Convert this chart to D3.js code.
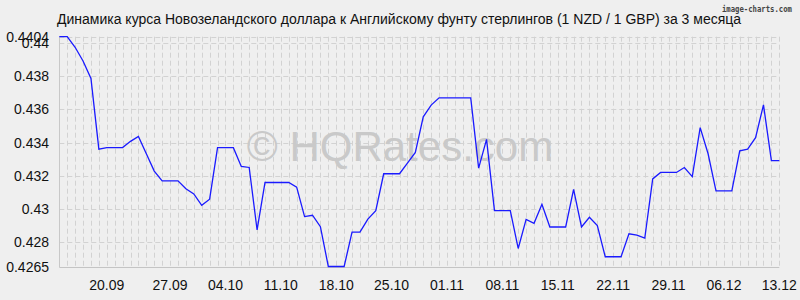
<!DOCTYPE html>
<html><head><meta charset="utf-8">
<script src="https://cdn.jsdelivr.net/npm/d3@7"></script>
<style>
html,body{margin:0;padding:0;background:#efefef;}
svg{display:block;font-family:"Liberation Sans",Arial,sans-serif;}
</style></head>
<body>
<svg id="c" width="800" height="300"></svg>
<script>
const title = "Динамика курса Новозеландского доллара к Английскому фунту стерлингов (1 NZD / 1 GBP) за 3 месяца";
const rates = [
0.4404,0.4404,0.43976,0.43893,0.43787,0.43360,0.43369,0.43369,0.43369,0.43407,
0.43437,0.43332,0.43227,0.43168,0.43168,0.43168,0.43120,0.43089,0.43020,0.43057,
0.43369,0.43369,0.43369,0.43255,0.43249,0.42871,0.43158,0.43158,0.43158,0.43158,
0.43130,0.42952,0.42960,0.42891,0.4265,0.4265,0.4265,0.42858,0.42858,0.42937,
0.42988,0.43211,0.43211,0.43211,0.43275,0.43340,0.43555,0.43626,0.43670,0.43670,
0.43670,0.43670,0.43670,0.43245,0.43419,0.42988,0.42988,0.42988,0.42759,0.42935,
0.42911,0.43026,0.42889,0.42889,0.42889,0.43116,0.42889,0.42948,0.42898,0.42709,
0.42709,0.42709,0.42848,0.42840,0.42822,0.43180,0.43219,0.43219,0.43219,0.43249,
0.43194,0.43490,0.43332,0.43107,0.43107,0.43107,0.43350,0.43360,0.43429,0.43628,
0.43290,0.43290
];
const xTickLabels = ["20.09","27.09","04.10","11.10","18.10","25.10","01.11","08.11","15.11","22.11","29.11","06.12","13.12"];
const xTickIndex  = [6,14,21,28,35,42,49,56,63,70,77,84,91];
const yTickValues = [0.4265,0.428,0.43,0.432,0.434,0.436,0.438,0.44,0.4404];
const yMin = 0.4265, yMax = 0.4404;

const svg = d3.select("#c");
const L = 59.3, R = 779.3, T = 36.7, B = 266.5;
const x = d3.scaleLinear().domain([0, rates.length - 1]).range([L, R]);
const y = d3.scaleLinear().domain([yMin, yMax]).range([B, T]);

// grid
const g = svg.append("g");
g.selectAll("line.v").data(d3.range(1, rates.length)).enter().append("line")
  .attr("x1", d => Math.round(x(d)) + 0.5).attr("x2", d => Math.round(x(d)) + 0.5)
  .attr("y1", T).attr("y2", B)
  .attr("stroke", "#d2d2d2").attr("stroke-width", 1).attr("stroke-dasharray", "5,3");
g.selectAll("line.h").data(yTickValues.slice(1)).enter().append("line")
  .attr("x1", L).attr("x2", R)
  .attr("y1", d => Math.round(y(d)) + 0.5).attr("y2", d => Math.round(y(d)) + 0.5)
  .attr("stroke", "#d2d2d2").attr("stroke-width", 1).attr("stroke-dasharray", "5,3");
// axes lines
svg.append("line").attr("x1", Math.round(L)+0.5).attr("x2", Math.round(L)+0.5).attr("y1", T).attr("y2", B+0.5)
  .attr("stroke", "#c8c8c8");
svg.append("line").attr("x1", L).attr("x2", R).attr("y1", Math.round(B)+0.5).attr("y2", Math.round(B)+0.5)
  .attr("stroke", "#c4c4c4");

// watermark
svg.append("text").attr("x", 400).attr("y", 161).attr("text-anchor", "middle")
  .attr("font-size", 42).attr("fill", "#c9c9c9")
  .text("© HQRates.com");

// line
svg.append("path").datum(rates)
  .attr("d", d3.line().x((d, i) => x(i)).y(d => y(d)))
  .attr("fill", "none").attr("stroke", "#1a1aff").attr("stroke-width", 1.3);

// y labels
svg.append("g").selectAll("text").data(yTickValues).enter().append("text")
  .attr("x", 49).attr("y", d => y(d)).attr("dy", "0.36em")
  .attr("text-anchor", "end").attr("font-size", 14).attr("fill", "#111")
  .text(d => String(d));

// x labels
svg.append("g").selectAll("text").data(xTickLabels).enter().append("text")
  .attr("x", (d, i) => x(xTickIndex[i])).attr("y", 290)
  .attr("text-anchor", "middle").attr("font-size", 14).attr("fill", "#111")
  .text(d => d);

// title
svg.append("text").attr("x", 57).attr("y", 24).attr("font-size", 14).attr("fill", "#111")
  .text(title);

// brand
svg.append("text").attr("x", 722).attr("y", 12)
  .attr("font-family", "DejaVu Sans Mono").attr("font-weight", "bold")
  .attr("font-size", 9.5).attr("fill", "#444")
  .attr("textLength", 70).attr("lengthAdjust", "spacingAndGlyphs")
  .text("image-charts.com");
</script>
</body></html>
